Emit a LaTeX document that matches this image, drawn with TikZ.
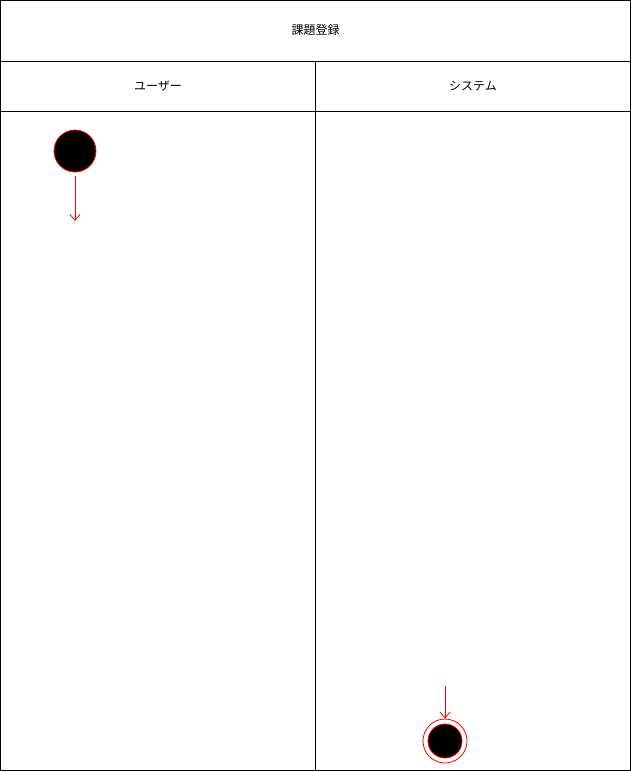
\documentclass[tikz,border=0pt]{standalone}
\usepackage{fontspec}
\newfontfamily\cjk{Noto Sans CJK JP}
\usetikzlibrary{arrows.meta}
\begin{document}
\begin{tikzpicture}[x=1pt,y=-1pt,
  lane/.style={draw=black,line width=1pt},
  lbl/.style={font=\cjk\fontsize{12}{14}\selectfont,inner sep=0pt},
  flow/.style={draw=red,line width=0.8pt,-{Straight Barb[length=6pt,width=10pt]}},
  startnode/.style={circle,fill=black,draw=red,line width=0.8pt,minimum size=42pt,inner sep=0pt},
  endnode/.style={circle,fill=black,draw=red,line width=0.8pt,minimum size=34pt,inner sep=0pt,double=white,double distance=3pt}]
\useasboundingbox (0,0) rectangle (631,772);
\fill[white] (0,0) rectangle (631,772);
\draw[lane] (0.5,0.5) rectangle (630.5,770.5);
\draw[lane] (0.5,61) -- (630.5,61);
\draw[lane] (0.5,111) -- (630.5,111);
\draw[lane] (315.5,61) -- (315.5,770.5);
\node[lbl] (title) at (315.5,30) {課題登録};
\node[lbl] (user) at (158,86) {ユーザー};
\node[lbl] (sys) at (473,86) {システム};
\node[startnode] (start) at (75,151) {};
\coordinate (a1) at (75,221);
\draw[flow] (75,176) -- (a1);
\node[circle,fill=black,draw=red,line width=0.8pt,minimum size=34pt,inner sep=0pt] (endin) at (445,741) {};
\node[circle,draw=red,line width=0.8pt,minimum size=44pt,inner sep=0pt] (endout) at (445,741) {};
\coordinate (e1) at (445,686);
\draw[flow] (e1) -- (endout.north);
\end{tikzpicture}
\end{document}
